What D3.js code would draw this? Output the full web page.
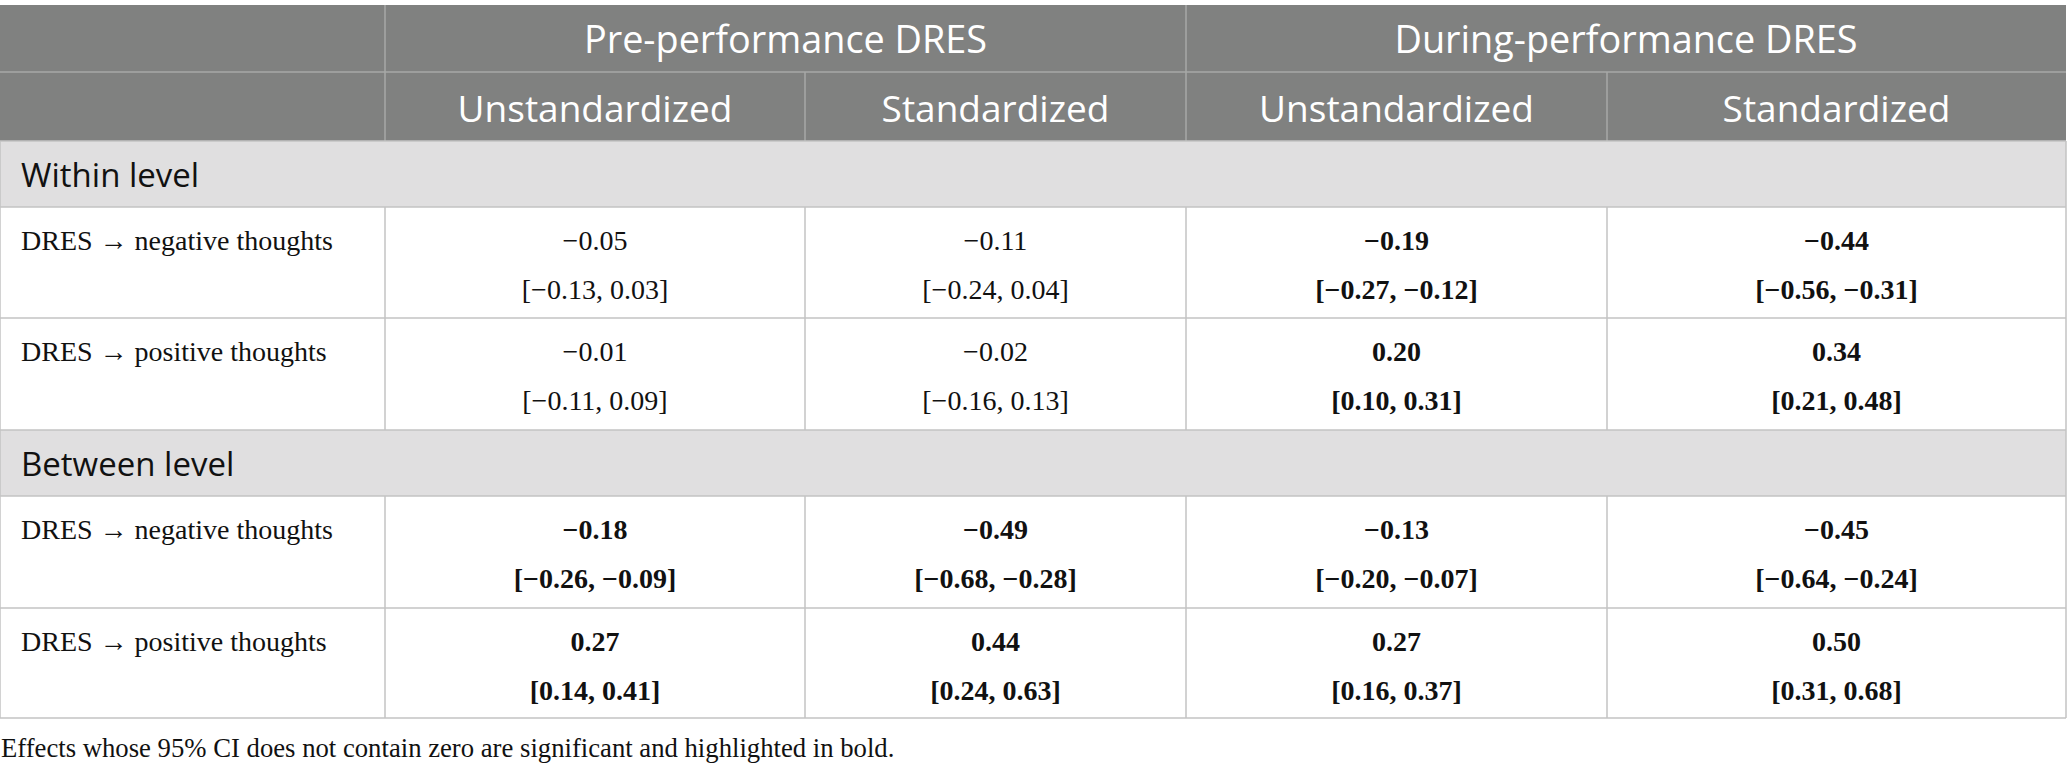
<!DOCTYPE html>
<html><head><meta charset="utf-8">
<script src="https://cdn.jsdelivr.net/npm/d3@7"></script>
<style>body{margin:0;background:#fff}svg{display:block}</style>
</head><body>
<script>
// ---- data ----
const groups = ["Pre-performance DRES", "During-performance DRES"];
const subheads = ["Unstandardized", "Standardized", "Unstandardized", "Standardized"];
const sections = ["Within level", "Between level"];
const rowLabels = ["DRES \u2192 negative thoughts", "DRES \u2192 positive thoughts"];
const estimates = [
  [-0.05, -0.11, -0.19, -0.44],
  [-0.01, -0.02, 0.20, 0.34],
  [-0.18, -0.49, -0.13, -0.45],
  [0.27, 0.44, 0.27, 0.50]
];
const ciLow = [
  [-0.13, -0.24, -0.27, -0.56],
  [-0.11, -0.16, 0.10, 0.21],
  [-0.26, -0.68, -0.20, -0.64],
  [0.14, 0.24, 0.16, 0.31]
];
const ciHigh = [
  [0.03, 0.04, -0.12, -0.31],
  [0.09, 0.13, 0.31, 0.48],
  [-0.09, -0.28, -0.07, -0.24],
  [0.41, 0.63, 0.37, 0.68]
];
const footnote = "Effects whose 95% CI does not contain zero are significant and highlighted in bold.";

// ---- layout ----
const W = 2067, H = 771;
const colEdges = [0, 385, 805, 1186, 1607, 2066];
const rowKinds = ["h1", "h2", "sec", "data", "data", "sec", "data", "data"];
const rowEdges = [5, 72, 141, 207, 318, 430, 496, 608, 718];
const HEAD = "#808180", HEADLINE = "#a7a8a7", SEC = "#e0dfe0", LINE = "#c3c3c3";
const SANS = "'Open Sans', 'Noto Sans', sans-serif";
const SERIF = "'Liberation Serif', 'DejaVu Serif', serif";

const x = d3.scaleOrdinal().domain(d3.range(colEdges.length)).range(colEdges);
const y = d3.scaleOrdinal().domain(d3.range(rowEdges.length)).range(rowEdges);
const fmt = v => d3.format(".2f")(v).replace("-", "\u2212");

const svg = d3.select("body").append("svg").attr("width", W).attr("height", H);

// backgrounds
rowKinds.forEach((k, i) => {
  const fill = (k === "h1" || k === "h2") ? HEAD : k === "sec" ? SEC : "#fff";
  svg.append("rect").attr("x", x(0)).attr("y", y(i)).attr("width", x(5) - x(0))
    .attr("height", y(i + 1) - y(i)).attr("fill", fill);
});

// header lines
svg.append("line").attr("x1", x(0)).attr("x2", x(5)).attr("y1", y(1)).attr("y2", y(1)).attr("stroke", HEADLINE).attr("stroke-width", 1.5);
[1, 3].forEach(c => svg.append("line").attr("x1", x(c)).attr("x2", x(c)).attr("y1", y(0)).attr("y2", y(2)).attr("stroke", HEADLINE).attr("stroke-width", 1.5));
[2, 4].forEach(c => svg.append("line").attr("x1", x(c)).attr("x2", x(c)).attr("y1", y(1)).attr("y2", y(2)).attr("stroke", HEADLINE).attr("stroke-width", 1.5));

// header text
groups.forEach((g, i) => {
  svg.append("text").attr("x", (x(1 + 2 * i) + x(3 + 2 * i)) / 2).attr("y", y(0) + 48)
    .attr("text-anchor", "middle").attr("fill", "#fff")
    .attr("font-family", SANS).attr("font-size", 37.8).text(g);
});
subheads.forEach((s, i) => {
  svg.append("text").attr("x", (x(1 + i) + x(2 + i)) / 2).attr("y", y(1) + 50)
    .attr("text-anchor", "middle").attr("fill", "#fff")
    .attr("font-family", SANS).attr("font-size", 37).text(s);
});

// body
let dataIdx = 0, secIdx = 0;
rowKinds.forEach((k, i) => {
  if (k === "sec") {
    svg.append("text").attr("x", x(0) + 21).attr("y", y(i) + 46)
      .attr("fill", "#111").attr("font-family", SANS).attr("font-size", 33).text(sections[secIdx++]);
  } else if (k === "data") {
    const r = dataIdx++;
    const top = y(i);
    svg.append("text").attr("x", x(0) + 21).attr("y", top + 42.5)
      .attr("fill", "#111").attr("font-family", SERIF).attr("font-size", 28).text(rowLabels[r % 2]);
    estimates[r].forEach((v, c) => {
      const sig = !(ciLow[r][c] <= 0 && ciHigh[r][c] >= 0);
      const cx = (x(1 + c) + x(2 + c)) / 2;
      svg.append("text").attr("x", cx).attr("y", top + 42.5).attr("text-anchor", "middle")
        .attr("fill", "#111").attr("font-family", SERIF).attr("font-size", 28)
        .attr("font-weight", sig ? "bold" : "normal").text(fmt(v));
      svg.append("text").attr("x", cx).attr("y", top + 92).attr("text-anchor", "middle")
        .attr("fill", "#111").attr("font-family", SERIF).attr("font-size", 28)
        .attr("font-weight", sig ? "bold" : "normal")
        .text("[" + fmt(ciLow[r][c]) + ", " + fmt(ciHigh[r][c]) + "]");
    });
    d3.range(1, 5).forEach(c => svg.append("line").attr("x1", x(c)).attr("x2", x(c))
      .attr("y1", y(i)).attr("y2", y(i + 1)).attr("stroke", LINE).attr("stroke-width", 1.5));
  }
});

// horizontal body lines
d3.range(2, rowEdges.length).forEach(i => svg.append("line").attr("x1", x(0)).attr("x2", x(5))
  .attr("y1", y(i)).attr("y2", y(i)).attr("stroke", LINE).attr("stroke-width", 1.5));
// outer borders of body
[0, 5].forEach(c => svg.append("line").attr("x1", x(c)).attr("x2", x(c))
  .attr("y1", y(2)).attr("y2", y(8)).attr("stroke", LINE).attr("stroke-width", 1.5));

svg.append("text").attr("x", 1).attr("y", 757).attr("fill", "#111")
  .attr("font-family", SERIF).attr("font-size", 26.7).text(footnote);
</script>
</body></html>
